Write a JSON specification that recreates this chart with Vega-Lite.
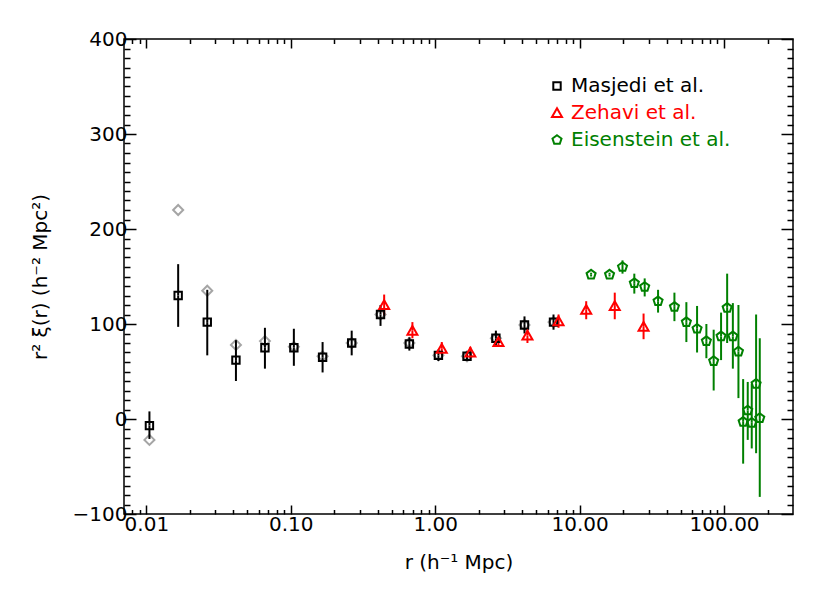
{
  "$schema": "https://vega.github.io/schema/vega-lite/v6.json",
  "width": 669,
  "height": 475,
  "autosize": {"type": "none"},
  "padding": {"left": 124, "top": 39, "right": 37, "bottom": 79},
  "background": "white",
  "config": {
    "view": {"stroke": "black", "strokeWidth": 1.5},
    "axis": {
      "labelFont": "DejaVu Sans", "labelFontSize": 20, "labelColor": "black",
      "titleFont": "DejaVu Sans", "titleFontSize": 20, "titleFontWeight": "normal", "titleColor": "black",
      "tickColor": "black", "tickWidth": 1.5, "domain": false, "grid": false
    }
  },
  "data": {"values": [
    {"series": "Masjedi et al.", "r": 0.0105, "v": -7, "lo": -21, "hi": 8, "g": -22},
    {"series": "Masjedi et al.", "r": 0.0166, "v": 130, "lo": 97, "hi": 163, "g": 220},
    {"series": "Masjedi et al.", "r": 0.0264, "v": 102, "lo": 67, "hi": 136, "g": 135},
    {"series": "Masjedi et al.", "r": 0.0417, "v": 62, "lo": 40, "hi": 83, "g": 78},
    {"series": "Masjedi et al.", "r": 0.0662, "v": 75, "lo": 53, "hi": 96, "g": 82},
    {"series": "Masjedi et al.", "r": 0.105, "v": 75, "lo": 56, "hi": 95, "g": 76},
    {"series": "Masjedi et al.", "r": 0.166, "v": 65, "lo": 49, "hi": 81, "g": 66},
    {"series": "Masjedi et al.", "r": 0.264, "v": 80, "lo": 67, "hi": 93, "g": 80},
    {"series": "Masjedi et al.", "r": 0.418, "v": 110, "lo": 98, "hi": 120, "g": 110},
    {"series": "Masjedi et al.", "r": 0.662, "v": 79, "lo": 72, "hi": 86, "g": 80},
    {"series": "Masjedi et al.", "r": 1.052, "v": 67, "lo": 61, "hi": 73, "g": 67},
    {"series": "Masjedi et al.", "r": 1.66, "v": 66, "lo": 61, "hi": 71, "g": 66},
    {"series": "Masjedi et al.", "r": 2.63, "v": 85, "lo": 76, "hi": 93, "g": 85},
    {"series": "Masjedi et al.", "r": 4.15, "v": 99, "lo": 90, "hi": 108, "g": 99},
    {"series": "Masjedi et al.", "r": 6.59, "v": 102, "lo": 94, "hi": 110, "g": 102},
    {"series": "Zehavi et al.", "r": 0.443, "v": 120, "lo": 109, "hi": 131},
    {"series": "Zehavi et al.", "r": 0.695, "v": 93, "lo": 85, "hi": 102},
    {"series": "Zehavi et al.", "r": 1.11, "v": 74, "lo": 67, "hi": 81},
    {"series": "Zehavi et al.", "r": 1.75, "v": 70, "lo": 64, "hi": 76},
    {"series": "Zehavi et al.", "r": 2.74, "v": 81, "lo": 76, "hi": 86},
    {"series": "Zehavi et al.", "r": 4.35, "v": 88, "lo": 80, "hi": 96},
    {"series": "Zehavi et al.", "r": 7.14, "v": 103, "lo": 96, "hi": 110},
    {"series": "Zehavi et al.", "r": 11.1, "v": 115, "lo": 105, "hi": 124},
    {"series": "Zehavi et al.", "r": 17.5, "v": 119, "lo": 105, "hi": 133},
    {"series": "Zehavi et al.", "r": 27.7, "v": 97, "lo": 84, "hi": 111},
    {"series": "Eisenstein et al.", "r": 12.0, "v": 152, "lo": 150, "hi": 154},
    {"series": "Eisenstein et al.", "r": 16.1, "v": 152, "lo": 150, "hi": 154},
    {"series": "Eisenstein et al.", "r": 19.8, "v": 160, "lo": 153, "hi": 167},
    {"series": "Eisenstein et al.", "r": 23.9, "v": 143, "lo": 132, "hi": 153},
    {"series": "Eisenstein et al.", "r": 28.2, "v": 139, "lo": 129, "hi": 148},
    {"series": "Eisenstein et al.", "r": 34.9, "v": 124, "lo": 112, "hi": 136},
    {"series": "Eisenstein et al.", "r": 45.3, "v": 118, "lo": 103, "hi": 133},
    {"series": "Eisenstein et al.", "r": 54.8, "v": 102, "lo": 81, "hi": 123},
    {"series": "Eisenstein et al.", "r": 65.0, "v": 95, "lo": 70, "hi": 119},
    {"series": "Eisenstein et al.", "r": 75.4, "v": 82, "lo": 64, "hi": 100},
    {"series": "Eisenstein et al.", "r": 84.7, "v": 61, "lo": 30, "hi": 94},
    {"series": "Eisenstein et al.", "r": 95.3, "v": 87, "lo": 62, "hi": 112},
    {"series": "Eisenstein et al.", "r": 105, "v": 117, "lo": 80, "hi": 153},
    {"series": "Eisenstein et al.", "r": 115, "v": 87, "lo": 53, "hi": 122},
    {"series": "Eisenstein et al.", "r": 125.7, "v": 71, "lo": 22, "hi": 120},
    {"series": "Eisenstein et al.", "r": 135.5, "v": -3, "lo": -47, "hi": 42},
    {"series": "Eisenstein et al.", "r": 145.8, "v": 9, "lo": -22, "hi": 39},
    {"series": "Eisenstein et al.", "r": 155.4, "v": -4, "lo": -31, "hi": 37},
    {"series": "Eisenstein et al.", "r": 166.6, "v": 37, "lo": -36, "hi": 110},
    {"series": "Eisenstein et al.", "r": 176.6, "v": 1, "lo": -82, "hi": 85}
  ]},
  "resolve": {"axis": {"x": "independent", "y": "independent"}},
  "layer": [
    {
      "mark": {"type": "point", "shape": "diamond", "size": 100, "color": "#808080", "strokeWidth": 2, "filled": false},
      "encoding": {
        "x": {"field": "r", "type": "quantitative",
              "scale": {"type": "log", "domain": [0.007, 300], "nice": false},
              "axis": {"orient": "bottom", "values": [0.01, 0.1, 1, 10, 100], "format": ".2f",
                       "tickSize": -9, "labelPadding": 9, "labelFlush": false, "labelOverlap": false,
                       "title": "r  (h⁻¹ Mpc)", "titlePadding": 18}},
        "y": {"field": "g", "type": "quantitative",
              "scale": {"domain": [-100, 400], "nice": false, "zero": false},
              "axis": {"orient": "left", "values": [-100, 0, 100, 200, 300, 400],
                       "tickSize": -12, "labelPadding": 9, "labelFlush": false, "labelOverlap": false,
                       "title": "r² ξ(r)  (h⁻² Mpc²)", "titlePadding": 22}}
      }
    },
    {
      "mark": {"type": "rule", "strokeWidth": 2},
      "encoding": {
        "x": {"field": "r", "type": "quantitative",
              "scale": {"type": "log", "domain": [0.007, 300], "nice": false},
              "axis": {"orient": "bottom", "labels": false, "tickSize": -4.5, "title": null,
                       "values": [0.008, 0.009, 0.02, 0.03, 0.04, 0.05, 0.06, 0.07, 0.08, 0.09, 0.2, 0.3, 0.4, 0.5, 0.6, 0.7, 0.8, 0.9, 2, 3, 4, 5, 6, 7, 8, 9, 20, 30, 40, 50, 60, 70, 80, 90, 200]}},
        "y": {"field": "lo", "type": "quantitative",
              "scale": {"domain": [-100, 400], "nice": false, "zero": false},
              "axis": {"orient": "left", "labels": false, "tickSize": -6, "title": null,
                       "values": [-90, -80, -70, -60, -50, -40, -30, -20, -10, 10, 20, 30, 40, 50, 60, 70, 80, 90, 110, 120, 130, 140, 150, 160, 170, 180, 190, 210, 220, 230, 240, 250, 260, 270, 280, 290, 310, 320, 330, 340, 350, 360, 370, 380, 390]}},
        "y2": {"field": "v"},
        "stroke": {"field": "series", "type": "nominal", "legend": null,
                  "scale": {"domain": ["Eisenstein et al.", "Masjedi et al.", "Zehavi et al."], "range": ["#008000", "#000000", "#ff0000"]}}
      }
    },
    {
      "mark": {"type": "rule", "strokeWidth": 2},
      "encoding": {
        "x": {"field": "r", "type": "quantitative",
              "scale": {"type": "log", "domain": [0.007, 300], "nice": false},
              "axis": {"orient": "top", "labels": false, "tickSize": -9, "title": null,
                       "values": [0.01, 0.1, 1, 10, 100]}},
        "y": {"field": "v", "type": "quantitative",
              "scale": {"domain": [-100, 400], "nice": false, "zero": false},
              "axis": {"orient": "right", "labels": false, "tickSize": -12, "title": null,
                       "values": [-100, 0, 100, 200, 300, 400]}},
        "y2": {"field": "hi"},
        "stroke": {"field": "series", "type": "nominal", "legend": null,
                  "scale": {"domain": ["Eisenstein et al.", "Masjedi et al.", "Zehavi et al."], "range": ["#008000", "#000000", "#ff0000"]}}
      }
    },
    {
      "mark": {"type": "point", "size": 100, "strokeWidth": 2, "filled": false, "opacity": 1},
      "encoding": {
        "x": {"field": "r", "type": "quantitative",
              "scale": {"type": "log", "domain": [0.007, 300], "nice": false},
              "axis": {"orient": "top", "labels": false, "tickSize": -4.5, "title": null,
                       "values": [0.008, 0.009, 0.02, 0.03, 0.04, 0.05, 0.06, 0.07, 0.08, 0.09, 0.2, 0.3, 0.4, 0.5, 0.6, 0.7, 0.8, 0.9, 2, 3, 4, 5, 6, 7, 8, 9, 20, 30, 40, 50, 60, 70, 80, 90, 200]}},
        "y": {"field": "v", "type": "quantitative",
              "scale": {"domain": [-100, 400], "nice": false, "zero": false},
              "axis": {"orient": "right", "labels": false, "tickSize": -6, "title": null,
                       "values": [-90, -80, -70, -60, -50, -40, -30, -20, -10, 10, 20, 30, 40, 50, 60, 70, 80, 90, 110, 120, 130, 140, 150, 160, 170, 180, 190, 210, 220, 230, 240, 250, 260, 270, 280, 290, 310, 320, 330, 340, 350, 360, 370, 380, 390]}},
        "color": {"field": "series", "type": "nominal",
                  "scale": {"domain": ["Masjedi et al.", "Zehavi et al.", "Eisenstein et al."], "range": ["#000000", "#ff0000", "#008000"]},
                  "legend": {"orient": "none", "legendX": 423, "legendY": 37, "title": null, "padding": 0,
                             "labelFont": "DejaVu Sans", "labelFontSize": 20, "labelOffset": 4, "rowPadding": 7,
                             "symbolSize": 100, "symbolStrokeWidth": 2,
                             "labelColor": {"expr": "datum.value === 'Masjedi et al.' ? '#000000' : datum.value === 'Zehavi et al.' ? '#ff0000' : '#008000'"}}},
        "shape": {"field": "series", "type": "nominal",
                  "scale": {"domain": ["Masjedi et al.", "Zehavi et al.", "Eisenstein et al."],
                            "range": ["M-0.74,-0.74H0.74V0.74H-0.74Z", "M0,-0.95L1,0.8L-1,0.8Z", "M0,-0.95L0.9035,-0.2936L0.5584,0.7686L-0.5584,0.7686L-0.9035,-0.2936Z"]}}
      }
    }
  ]
}
